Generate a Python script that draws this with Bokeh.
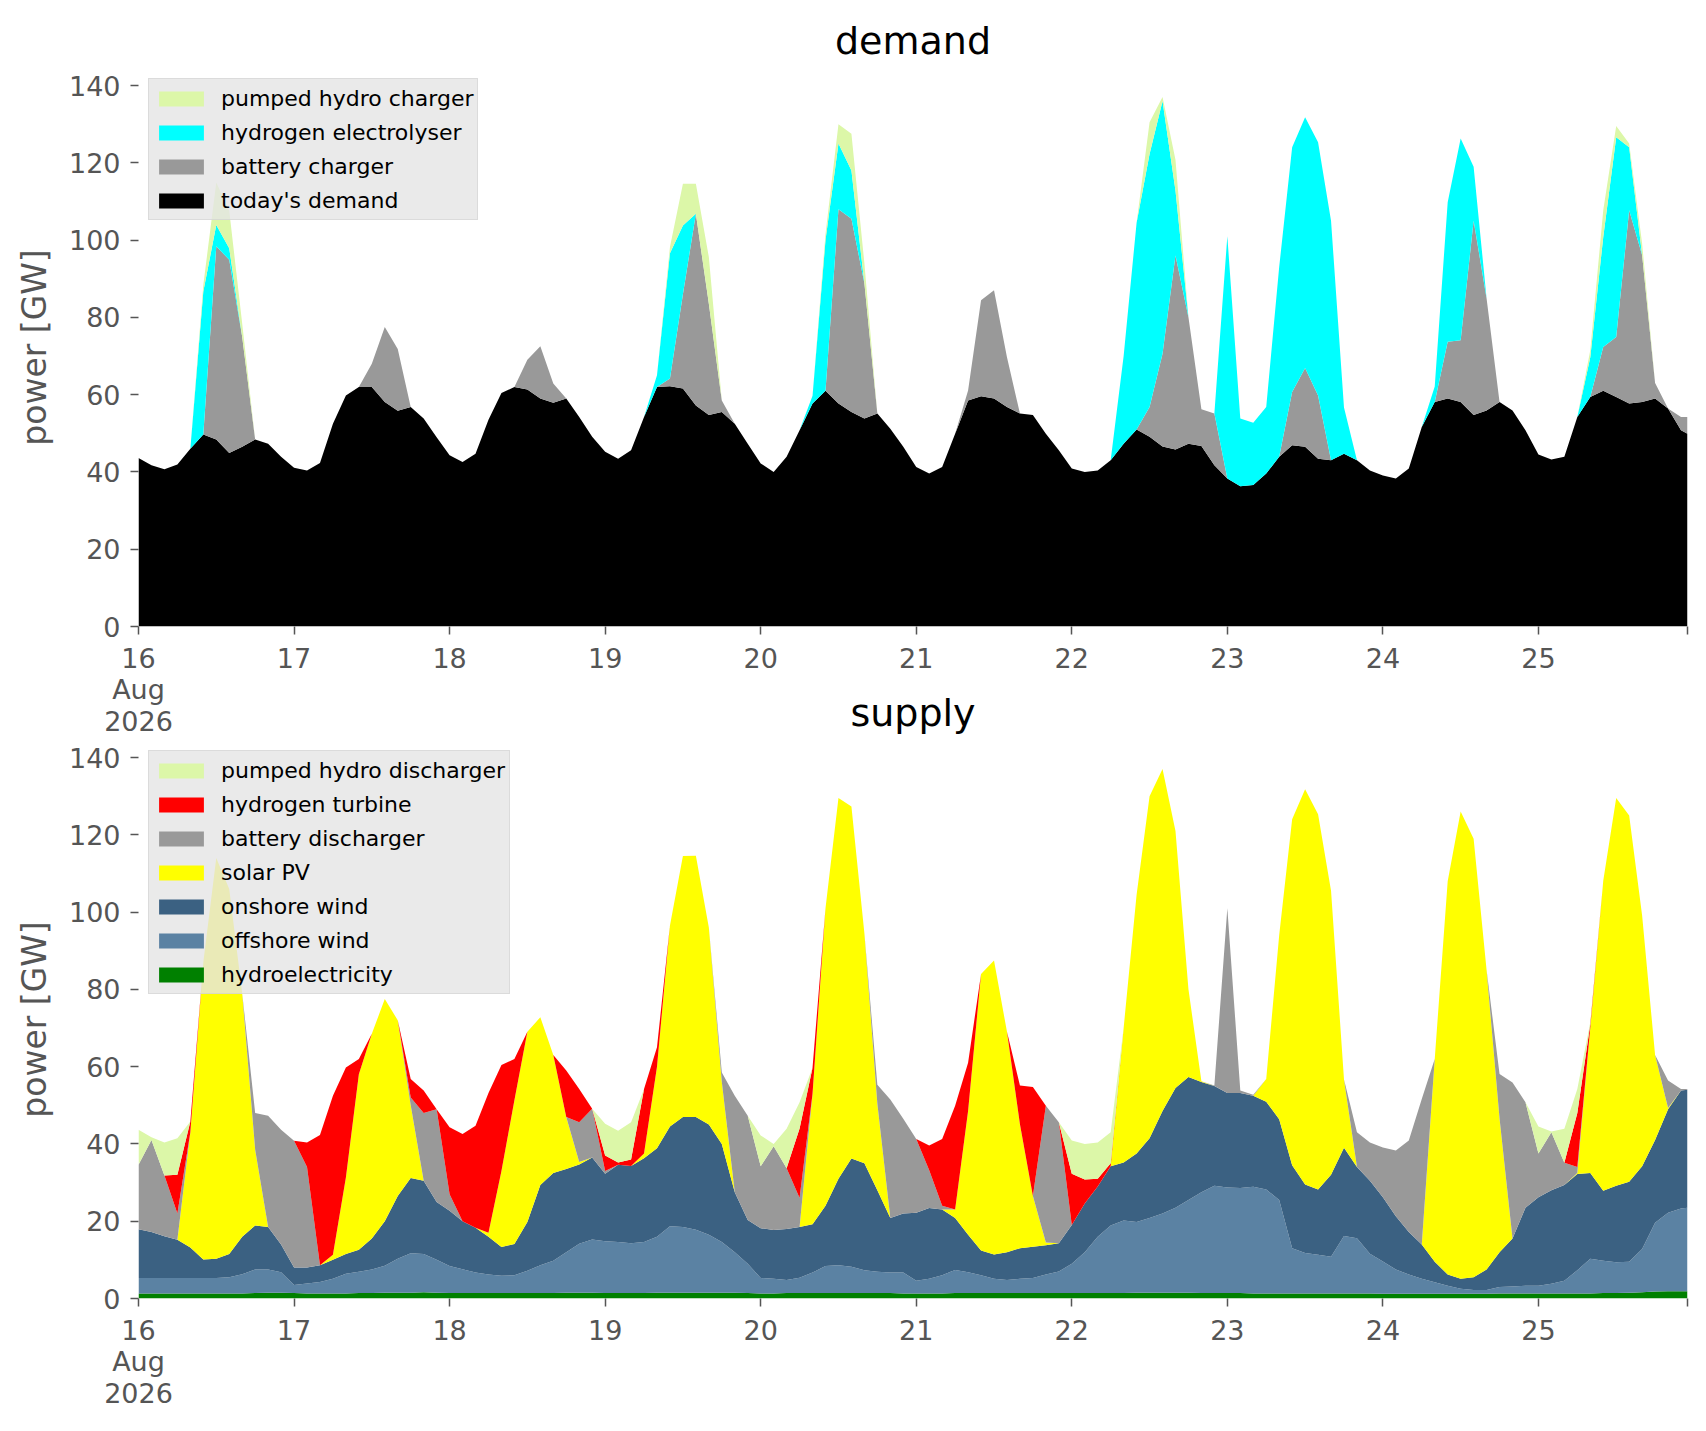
import pandas as pd
from bokeh.plotting import figure
from bokeh.models import ColumnDataSource, FixedTicker, Range1d
from bokeh.layouts import column
from bokeh.embed import file_html
from bokeh.resources import INLINE

# ---------------- data (GW), 2-hourly from 16 Aug 2026 00:00, last point 25 Aug 23:00 ----------------
times = list(pd.date_range("2026-08-16 00:00", "2026-08-25 22:00", freq="2h")) + [pd.Timestamp("2026-08-25 23:00")]

day_ticks = [pd.Timestamp("2026-08-%02d" % d) for d in range(16, 26)] + [pd.Timestamp("2026-08-25 23:00")]
day_labels = ["16\nAug\n2026", "17", "18", "19", "20", "21", "22", "23", "24", "25", ""]
y_ticks = [0, 20, 40, 60, 80, 100, 120, 140]

# demand side
demand_today = [
    43.6, 41.7, 40.7, 41.9, 46.0, 49.7, 48.4, 44.9, 46.5, 48.4, 47.3, 43.9,
    41.1, 40.4, 42.3, 52.5, 59.8, 62.0, 62.0, 58.1, 55.8, 56.8, 53.8, 49.0,
    44.3, 42.6, 44.7, 53.5, 60.4, 62.0, 61.3, 59.0, 57.9, 59.0, 54.2, 49.1,
    45.2, 43.4, 45.6, 54.2, 62.0, 62.2, 61.6, 57.2, 54.7, 55.5, 52.5, 47.3,
    42.2, 40.0, 43.9, 50.8, 57.7, 61.0, 57.7, 55.5, 53.8, 55.1, 51.2, 46.5,
    41.3, 39.6, 41.3, 49.9, 58.5, 59.6, 59.0, 56.8, 55.1, 54.7, 49.9, 45.6,
    40.9, 40.0, 40.4, 43.0, 47.3, 51.0, 49.1, 46.6, 45.8, 47.3, 46.7, 41.7,
    38.3, 36.3, 36.6, 39.6, 43.9, 46.9, 46.5, 43.4, 43.0, 44.7, 43.0, 40.4,
    39.1, 38.3, 40.9, 51.6, 58.1, 59.0, 58.1, 54.7, 55.9, 58.1, 55.9, 50.8,
    44.5, 43.2, 43.9, 54.2, 59.4, 61.0, 59.4, 57.7, 58.1, 59.0, 56.4, 50.8,
    49.9]
battery_charger = [
    0, 0, 0, 0, 0, 0, 50, 50, 28.4, 0, 0, 0,
    0, 0, 0, 0, 0, 0, 6, 19.4, 16, 0, 0, 0,
    0, 0, 0, 0, 0, 0, 7.7, 13.5, 5, 0, 0, 0,
    0, 0, 0, 0, 0, 2, 24.4, 49.6, 28.8, 3, 0, 0,
    0, 0, 0, 0, 0, 0, 50.3, 50, 35, 0, 0, 0,
    0, 0, 0, 0, 2.6, 24.8, 28, 12.9, 0, 0, 0, 0,
    0, 0, 0, 0, 0, 0, 7.7, 24, 50.2, 32.7, 9.5, 13.4,
    0, 0, 0, 0, 0, 13.8, 20.4, 16.4, 0, 0, 0, 0,
    0, 0, 0, 0, 0, 14.7, 16, 50.3, 29, 0, 0, 0,
    0, 0, 0, 0, 0, 11.3, 15.5, 50, 38, 4, 0, 3.4,
    4.3]
electrolyser = [
    0, 0, 0, 0, 0, 37, 5.5, 3, 0, 0, 0, 0,
    0, 0, 0, 0, 0, 0, 0, 0, 0, 0, 0, 0,
    0, 0, 0, 0, 0, 0, 0, 0, 0, 0, 0, 0,
    0, 0, 0, 0, 3, 32.4, 17.8, 0, 0, 0, 0, 0,
    0, 0, 0, 0, 2, 39, 17, 12.5, 0, 0, 0, 0,
    0, 0, 0, 0, 0, 0, 0, 0, 0, 0, 0, 0,
    0, 0, 0, 0, 22.7, 53.5, 65.5, 65.4, 16.8, 0, 0, 0,
    62.7, 17.5, 16.1, 17.2, 49.1, 63.3, 64.9, 65.5, 62, 12, 0, 0,
    0, 0, 0, 0, 4, 36.1, 52.2, 14, 0, 0, 0, 0,
    0, 0, 0, 0, 10.3, 28.5, 51.7, 16.3, 0, 0, 0, 0,
    0]
ph_charger = [
    0, 0, 0, 0, 0, 1.7, 11, 9.7, 3.5, 0, 0, 0,
    0, 0, 0, 0, 0, 0, 0, 0, 0, 0, 0, 0,
    0, 0, 0, 0, 0, 0, 0, 0, 0, 0, 0, 0,
    0, 0, 0, 0, 0, 1.6, 10.8, 7.8, 12.1, 0, 0, 0,
    0, 0, 0, 0, 0, 1.6, 5, 9.5, 5.2, 0, 0, 0,
    0, 0, 0, 0, 0, 0, 0, 0, 0, 0, 0, 0,
    0, 0, 0, 0, 0, 0, 8.2, 1, 8, 0, 0, 0,
    0, 0, 0, 0, 0, 0, 0, 0, 0, 0, 0, 0,
    0, 0, 0, 0, 0, 0, 0, 0, 0, 0, 0, 0,
    0, 0, 0, 0, 1.8, 6.9, 2.9, 1, 3, 0, 0, 0,
    0]

# supply side
hydro = [
    1.3, 1.3, 1.3, 1.3, 1.3, 1.3, 1.3, 1.3, 1.3, 1.4, 1.5, 1.5,
    1.4, 1.3, 1.3, 1.3, 1.3, 1.4, 1.4, 1.5, 1.5, 1.5, 1.6, 1.5,
    1.4, 1.4, 1.4, 1.4, 1.4, 1.4, 1.4, 1.4, 1.4, 1.5, 1.5, 1.5,
    1.4, 1.4, 1.4, 1.4, 1.5, 1.5, 1.5, 1.5, 1.5, 1.5, 1.5, 1.4,
    1.3, 1.3, 1.4, 1.4, 1.4, 1.4, 1.4, 1.4, 1.4, 1.4, 1.4, 1.3,
    1.3, 1.3, 1.3, 1.4, 1.4, 1.4, 1.4, 1.4, 1.4, 1.4, 1.4, 1.4,
    1.4, 1.4, 1.4, 1.4, 1.4, 1.5, 1.5, 1.5, 1.5, 1.5, 1.4, 1.4,
    1.4, 1.4, 1.3, 1.3, 1.3, 1.3, 1.3, 1.3, 1.3, 1.3, 1.3, 1.3,
    1.2, 1.2, 1.2, 1.2, 1.2, 1.2, 1.2, 1.2, 1.2, 1.3, 1.3, 1.3,
    1.3, 1.3, 1.3, 1.3, 1.3, 1.4, 1.4, 1.5, 1.6, 1.8, 1.9, 1.9,
    1.9]
offshore = [
    4.0, 4.0, 4.0, 4.0, 4.0, 4.0, 4.0, 4.2, 5.0, 6.1, 6.0, 5.3,
    2.1, 2.6, 3.0, 3.8, 5.1, 5.5, 6.1, 7.0, 8.8, 10.2, 9.9, 8.5,
    7.0, 6.2, 5.3, 4.8, 4.5, 4.6, 5.8, 7.2, 8.4, 10.5, 12.7, 13.8,
    13.4, 13.2, 12.9, 13.2, 14.5, 17.2, 17.0, 16.3, 15.0, 13.1, 10.5, 7.6,
    4.0, 3.8, 3.4, 4.0, 5.3, 7.0, 7.2, 6.8, 5.9, 5.5, 5.3, 5.4,
    3.3, 3.8, 4.7, 6.0, 5.4, 4.6, 3.7, 3.4, 3.7, 3.9, 4.8, 5.6,
    7.6, 10.6, 14.6, 17.5, 18.8, 18.3, 19.3, 20.5, 22.0, 24.0, 26.1, 27.8,
    27.3, 27.2, 27.6, 26.9, 24.2, 11.7, 10.5, 10.0, 9.5, 14.9, 14.3, 10.3,
    8.4, 6.3, 5.0, 3.9, 3.0, 2.1, 1.3, 1.0, 1.0, 1.7, 1.8, 2.0,
    2.0, 2.5, 3.3, 6.0, 9.0, 8.4, 8.0, 8.0, 11.2, 17.8, 20.3, 21.4,
    21.6]
onshore = [
    12.6, 11.9, 10.8, 9.9, 7.9, 4.8, 5.0, 6.0, 9.7, 11.4, 11.0, 7.2,
    4.5, 4.1, 4.3, 4.9, 5.1, 5.7, 8.0, 11.5, 16.2, 19.5, 19.0, 15.0,
    14.3, 12.4, 11.6, 9.8, 7.4, 8.1, 12.6, 20.8, 22.7, 21.5, 20.5, 21.2,
    17.5, 20.0, 20.0, 21.7, 22.9, 25.8, 28.5, 29.2, 28.5, 25.4, 15.5, 11.3,
    12.9, 12.6, 13.2, 13.1, 12.5, 15.6, 22.4, 28.0, 27.7, 21.1, 14.1, 15.3,
    17.6, 18.3, 17.0, 13.4, 9.7, 6.4, 6.3, 7.2, 7.9, 8.1, 7.6, 7.3,
    10.0, 12.6, 13.0, 15.3, 15.0, 17.7, 20.7, 26.5, 31.0, 31.8, 28.5, 25.8,
    24.5, 24.6, 23.6, 22.7, 20.9, 21.5, 17.7, 16.9, 21.2, 22.8, 18.4, 18.9,
    16.6, 13.8, 11.0, 8.9, 5.3, 2.9, 2.6, 3.3, 5.3, 9.0, 12.4, 20.2,
    22.9, 24.2, 24.8, 24.9, 22.2, 18.1, 19.8, 20.7, 21.4, 21.4, 26.8, 30.5,
    30.5]
solar = [
    0, 0, 0, 0, 29.8, 76.9, 103.7, 94.5, 63, 19.6, 0, 0,
    0, 0, 0, 1.3, 19.8, 45.4, 53.0, 57.5, 45.5, 18.8, 0, 0,
    0, 0, 0, 1.0, 19.7, 37.2, 49.2, 43.4, 30.5, 13.5, 0.6, 0,
    0, 0, 0, 1.2, 21.1, 52, 67.5, 67.6, 51, 16, 0, 0,
    0, 0, 0, 0, 33.8, 77, 98.5, 91.1, 59.5, 22.4, 0, 0,
    0, 0, 0, 2.2, 32, 71.6, 76.1, 57, 32.1, 13.1, 0.7, 0,
    0, 0, 0, 0, 34.8, 67, 88.5, 88.5, 66.5, 22.7, 0.2, 0,
    0, 0, 0, 5.9, 47.6, 89.5, 102.3, 97.1, 73.5, 17.7, 0, 0,
    0, 0, 0, 0, 52.5, 101.8, 120.9, 113.5, 77.5, 34.6, 0, 0,
    0, 0, 0, 0.3, 37.5, 80.2, 100.3, 94.8, 64.9, 22, 0.3, 0,
    0]
battery_discharger = [
    16.7, 23.8, 15.7, 6.8, 0, 0, 0, 0, 0, 9.5, 28.8, 29.7,
    32.8, 26, 0, 0, 0, 0, 0, 0, 0, 2, 17.5, 24,
    4.3, 0, 0, 0, 0, 0, 0, 0, 0, 0, 10.3, 12.6,
    0.7, 0, 0, 0, 0, 0, 0, 0, 0, 2.5, 25.0, 27.0,
    16, 21.7, 15.7, 7.5, 0, 0, 0, 0, 0, 4.9, 30.7, 24.5,
    19.1, 9.8, 1, 0, 0, 0, 0, 0, 0, 0, 35.4, 31.3,
    0, 0, 0, 0, 0, 0, 0, 0, 0, 0, 0, 0.1,
    47.8, 0.6, 0.2, 0, 0, 0, 0, 0, 0, 0, 9, 9.9,
    12.9, 17, 23.7, 37.6, 0, 0, 0, 0, 0, 11.5, 40.4, 27.3,
    11.3, 15, 5.7, 1.5, 0, 0, 0, 0, 0, 0, 7.1, 0.4,
    0.2]
h2_turbine = [
    0, 0, 0, 10, 2.8, 0, 0, 0, 0, 0, 0, 0,
    0, 6.4, 33.7, 41.2, 28.5, 4, 0, 0, 0, 4.8, 5.8, 0,
    17.3, 22.6, 26.4, 36.2, 27.4, 10.7, 0, 0, 0, 12, 8.6, 0,
    4, 0.6, 1.7, 16.7, 5, 0, 0, 0, 0, 0, 0, 0,
    0, 0, 0, 18, 6.7, 0, 0, 0, 0, 0, 0, 0,
    0, 6.4, 17.3, 26.9, 12.5, 0, 0, 0, 10, 28.2, 0, 0,
    13.3, 6.2, 2, 0.8, 0, 0, 0, 0, 0, 0, 0, 0,
    0, 0, 0, 0, 0, 0, 0, 0, 0, 0, 0, 0,
    0, 0, 0, 0, 0, 0, 0, 0, 0, 0, 0, 0,
    0, 0, 0, 14, 1, 0, 0, 0, 0, 0, 0, 0,
    0]
ph_discharger = [
    9.1, 0.7, 8.6, 9.5, 0, 0, 0, 0, 0, 0, 0, 0,
    0, 0, 0, 0, 0, 0, 0, 0, 0, 0, 0, 0,
    0, 0, 0, 0, 0, 0, 0, 0, 0, 0, 0, 0,
    8.2, 8.2, 9.6, 0, 0, 0, 0, 0, 0, 0, 0, 0,
    8, 0.6, 10.2, 6.8, 0, 0, 0, 0, 0, 0, 0, 0,
    0, 0, 0, 0, 0, 0, 0, 0, 0, 0, 0, 0,
    8.6, 9.2, 9.4, 8, 0, 0, 0, 0, 0, 0, 0, 0,
    0, 0, 0, 0, 0, 0, 0, 0, 0, 0, 0, 0,
    0, 0, 0, 0, 0, 0, 0, 0, 0, 0, 0, 0,
    7, 0.2, 8.8, 6.2, 0.5, 0, 0, 0, 0, 0, 0, 0,
    0]

demand_layers = [("demand_today", "today's demand", "#000000"),
                 ("battery_charger", "battery charger", "#999999"),
                 ("electrolyser", "hydrogen electrolyser", "#00ffff"),
                 ("ph_charger", "pumped hydro charger", "#dcf7a8")]
supply_layers = [("hydro", "hydroelectricity", "#008000"),
                 ("offshore", "offshore wind", "#5b82a3"),
                 ("onshore", "onshore wind", "#3b6182"),
                 ("solar", "solar PV", "#ffff00"),
                 ("battery_discharger", "battery discharger", "#999999"),
                 ("h2_turbine", "hydrogen turbine", "#ff0000"),
                 ("ph_discharger", "pumped hydro discharger", "#dcf7a8")]

src = ColumnDataSource(dict(
    x=times, demand_today=demand_today, battery_charger=battery_charger,
    electrolyser=electrolyser, ph_charger=ph_charger, hydro=hydro,
    offshore=offshore, onshore=onshore, solar=solar,
    battery_discharger=battery_discharger, h2_turbine=h2_turbine,
    ph_discharger=ph_discharger))

FONT = "DejaVu Sans"
GREY = "#555555"
FW, FH = 1549, 558
TOP = 68
tick_ms = [int(t.value // 10**6) for t in day_ticks]


def make_fig(layers, title):
    p = figure(x_axis_type="datetime", frame_width=FW, frame_height=FH,
               x_range=Range1d(times[0], times[-1]), y_range=Range1d(0, 144.4),
               output_backend="svg", toolbar_location=None,
               min_border_left=138, min_border_right=6,
               min_border_top=TOP, min_border_bottom=4,
               background_fill_color="white", border_fill_color="white")
    p.outline_line_color = None
    p.xgrid.visible = False
    p.ygrid.visible = False
    names = [l[0] for l in layers]
    p.varea_stack(stackers=names, x="x", source=src,
                  color=[l[2] for l in layers],
                  legend_label=[l[1] for l in layers])
    for ax in (p.xaxis[0], p.yaxis[0]):
        ax.axis_line_color = None
        ax.major_tick_line_color = GREY
        ax.major_tick_line_width = 1.5
        ax.major_tick_out = 8
        ax.major_tick_in = 0
        ax.minor_tick_line_color = None
        ax.major_label_text_font = FONT
        ax.major_label_text_font_size = "27px"
        ax.major_label_text_color = GREY
    p.yaxis.ticker = FixedTicker(ticks=y_ticks)
    p.yaxis.major_label_standoff = 10
    p.yaxis.axis_label = "power [GW]"
    p.yaxis.axis_label_text_font = FONT
    p.yaxis.axis_label_text_font_size = "33px"
    p.yaxis.axis_label_text_font_style = "normal"
    p.yaxis.axis_label_text_color = GREY
    p.yaxis.axis_label_standoff = 12
    p.xaxis.ticker = FixedTicker(ticks=tick_ms)
    p.xaxis.major_label_overrides = {ms: lab for ms, lab in zip(tick_ms, day_labels)}
    p.xaxis.major_label_standoff = 8
    p.xaxis.major_label_text_line_height = 1.03

    leg = p.legend[0]
    leg.items = list(reversed(leg.items))
    leg.location = "top_left"
    leg.margin = 10
    leg.padding = 4
    leg.spacing = 4
    leg.label_text_font = FONT
    leg.label_text_font_size = "22px"
    leg.label_text_color = "black"
    leg.label_height = 30
    leg.glyph_height = 19
    leg.glyph_width = 56
    leg.label_standoff = 12
    leg.background_fill_color = "#e5e5e5"
    leg.background_fill_alpha = 0.8
    leg.border_line_color = "#cccccc"
    leg.border_line_width = 1.5

    p.title.text = title
    p.title.align = "center"
    p.title.text_font = FONT
    p.title.text_font_size = "38px"
    p.title.text_font_style = "normal"
    p.title.text_color = "black"
    p.title.standoff = 12
    return p


p_demand = make_fig(demand_layers, "demand")
p_supply = make_fig(supply_layers, "supply")
# the lower panel's title sits beside the "Aug 2026" tick-label lines of the upper panel:
# pull the lower figure up over the upper figure's label area and keep its border transparent
p_supply.border_fill_alpha = 0.0
p_supply.margin = (-TOP, 0, 0, 0)

layout = column(p_demand, p_supply, spacing=0)
open("out.html", "w").write(file_html(layout, INLINE))
